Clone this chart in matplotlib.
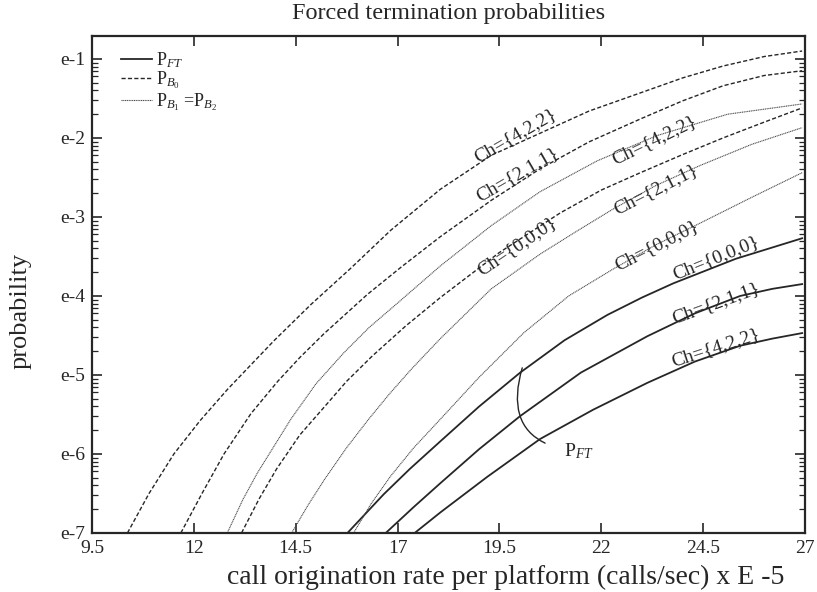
import matplotlib
matplotlib.use("Agg")
import matplotlib.pyplot as plt
import numpy as np
from matplotlib.ticker import LogLocator, NullFormatter

plt.rcParams['font.family'] = ['Liberation Serif', 'DejaVu Serif']
plt.rcParams['mathtext.fontset'] = 'custom'
plt.rcParams['mathtext.rm'] = 'Liberation Serif'
plt.rcParams['mathtext.it'] = 'Liberation Serif:italic'

# call origination rate (calls/sec x E-5) and log10(probability)
# P_B0 (new call blocking), dashed
x_b0_422 = [10.37, 10.90, 11.51, 12.15, 12.83, 13.96, 14.87, 15.85, 16.83, 18.05, 19.30, 20.50,
            21.70, 22.96, 24.00, 24.99, 26.00, 26.93]
e_b0_422 = [-7, -6.50, -6.00, -5.58, -5.18, -4.57, -4.11, -3.65, -3.17, -2.65, -2.22, -1.94,
            -1.66, -1.43, -1.24, -1.09, -0.97, -0.90]
x_b0_211 = [11.68, 12.20, 12.74, 13.40, 14.06, 14.60, 15.19, 16.26, 17.10, 18.05, 19.30, 20.50,
            21.70, 22.96, 24.00, 24.99, 26.00, 26.93]
e_b0_211 = [-7, -6.50, -6.00, -5.49, -5.08, -4.78, -4.48, -3.98, -3.63, -3.25, -2.79, -2.39,
            -2.05, -1.76, -1.53, -1.34, -1.21, -1.15]
x_b0_000 = [13.17, 13.60, 14.03, 14.60, 15.16, 15.75, 16.38, 17.20, 18.05, 19.50, 20.99, 22.00,
            22.96, 24.00, 24.99, 26.00, 26.93]
e_b0_000 = [-7, -6.57, -6.19, -5.76, -5.43, -5.08, -4.76, -4.38, -4.02, -3.45, -2.95, -2.66,
            -2.44, -2.21, -2.00, -1.80, -1.62]

# P_B1 = P_B2 (handoff blocking), dotted
x_b1_422 = [12.82, 13.20, 13.56, 14.38, 15.00, 15.68, 16.30, 17.00, 18.05, 19.30, 20.50, 21.90,
            23.37, 25.10, 26.93]
e_b1_422 = [-7, -6.58, -6.24, -5.56, -5.11, -4.72, -4.40, -4.09, -3.62, -3.11, -2.68, -2.29,
            -1.97, -1.70, -1.57]
x_b1_211 = [14.40, 14.80, 15.21, 15.75, 16.29, 16.80, 17.35, 18.05, 19.30, 20.50, 21.40, 22.29,
            23.35, 24.42, 25.70, 26.93]
e_b1_211 = [-7, -6.65, -6.32, -5.92, -5.56, -5.24, -4.92, -4.54, -3.91, -3.47, -3.18, -2.90,
            -2.60, -2.35, -2.08, -1.87]
x_b1_000 = [15.92, 16.35, 16.83, 17.40, 18.05, 19.00, 20.09, 21.20, 22.29, 23.35, 24.42, 25.70, 26.93]
e_b1_000 = [-7, -6.63, -6.28, -5.92, -5.56, -5.03, -4.47, -4.00, -3.66, -3.35, -3.08, -2.75, -2.44]

# P_FT (forced termination), solid
x_ft_000 = [15.77, 16.66, 17.30, 18.05, 19.00, 20.01, 21.10, 22.15, 23.00, 23.77, 25.30, 26.93]
e_ft_000 = [-7, -6.51, -6.19, -5.84, -5.40, -4.97, -4.56, -4.24, -4.02, -3.84, -3.53, -3.27]
x_ft_211 = [16.71, 17.40, 18.05, 19.00, 20.01, 21.50, 23.13, 24.30, 25.41, 26.20, 26.93]
e_ft_211 = [-7, -6.67, -6.37, -5.94, -5.52, -4.97, -4.51, -4.22, -4.00, -3.91, -3.85]
x_ft_422 = [17.42, 18.05, 19.20, 20.50, 21.80, 23.13, 24.30, 25.41, 26.20, 26.93]
e_ft_422 = [-7, -6.74, -6.29, -5.81, -5.44, -5.10, -4.83, -4.63, -4.54, -4.47]

xticks = [9.5, 12, 14.5, 17, 19.5, 22, 24.5, 27]
xtick_labels = ['9.5', '12', '14.5', '17', '19.5', '22', '24.5', '27']
yticks = [1e-7, 1e-6, 1e-5, 1e-4, 1e-3, 1e-2, 1e-1]
ytick_labels = ['e-7', 'e-6', 'e-5', 'e-4', 'e-3', 'e-2', 'e-1']

fig = plt.figure(figsize=(8.17, 5.92), dpi=100)
ax = fig.add_axes([0.1126, 0.0997, 0.8727, 0.8395])

ink = '#262626'
dash = dict(color=ink, lw=1.0, ls=(0, (3, 1.6)))
dots = dict(color='#4a4a4a', lw=0.8, ls=(0, (1, 0.6)))
solid = dict(color=ink, lw=1.3, ls='-')

def p(e):
    return np.power(10.0, e)

ax.plot(x_ft_000, p(e_ft_000), label=r'P$_{FT}$', **solid)
ax.plot(x_ft_211, p(e_ft_211), **solid)
ax.plot(x_ft_422, p(e_ft_422), **solid)
ax.plot(x_b0_422, p(e_b0_422), label=r'P$_{B_0}$', **dash)
ax.plot(x_b0_211, p(e_b0_211), **dash)
ax.plot(x_b0_000, p(e_b0_000), **dash)
ax.plot(x_b1_422, p(e_b1_422), label=r'P$_{B_1}$ =P$_{B_2}$', **dots)
ax.plot(x_b1_211, p(e_b1_211), **dots)
ax.plot(x_b1_000, p(e_b1_000), **dots)

ax.set_yscale('log')
ax.set_xlim(9.5, 27)
ax.set_ylim(1e-7, 0.195)
ax.set_xticks(xticks)
ax.set_xticklabels(xtick_labels)
ax.set_yticks(yticks)
ax.set_yticklabels(ytick_labels)
ax.yaxis.set_minor_locator(LogLocator(base=10, subs=range(2, 10), numticks=20))
ax.yaxis.set_minor_formatter(NullFormatter())
ax.tick_params(which='both', direction='in', top=True, right=True, labelsize=14, pad=5, colors=ink)
ax.tick_params(which='major', length=7, width=1.2)
ax.tick_params(which='minor', length=4, width=0.9)
for s in ax.spines.values():
    s.set_linewidth(1.6)
    s.set_color(ink)

ax.set_title('Forced termination probabilities', fontsize=17.5, pad=12, color=ink)
ax.set_xlabel('call origination rate per platform (calls/sec) x E -5', fontsize=20, color=ink, labelpad=3)
ax.xaxis.set_label_coords(0.58, -0.065)
ax.set_ylabel('probability', fontsize=19, color=ink)
ax.yaxis.set_label_coords(-0.085, 0.447)

leg = ax.legend(loc='upper left', frameon=False, fontsize=13, handlelength=1.75,
                handletextpad=0.2, labelspacing=0.0, borderpad=0, borderaxespad=0,
                bbox_to_anchor=(0.04, 0.972))
for t in leg.get_texts():
    t.set_color(ink)

# curve labels
lab = dict(fontsize=14, color=ink, ha='center', va='center', rotation_mode='anchor')
ax.text(19.89, 1.06e-2, 'Ch={4,2,2}', rotation=30, **lab)
ax.text(19.94, 3.4e-3, 'Ch={2,1,1}', rotation=30, **lab)
ax.text(19.94, 4.3e-4, 'Ch={0,0,0}', rotation=34, **lab)
ax.text(23.30, 9.3e-3, 'Ch={4,2,2}', rotation=26, **lab)
ax.text(23.35, 2.2e-3, 'Ch={2,1,1}', rotation=27, **lab)
ax.text(23.35, 4.3e-4, 'Ch={0,0,0}', rotation=27, **lab)
ax.text(24.82, 3.0e-4, 'Ch={0,0,0}', rotation=22, **lab)
ax.text(24.82, 8.1e-5, 'Ch={2,1,1}', rotation=20, **lab)
ax.text(24.82, 2.2e-5, 'Ch={4,2,2}', rotation=18, **lab)

ax.annotate(r'P$_{FT}$', xy=(20.06, 1.23e-5), xytext=(21.44, 1.07e-6),
            fontsize=14, color=ink, ha='center', va='center',
            arrowprops=dict(arrowstyle='-', color=ink, lw=1.0, shrinkA=12, shrinkB=0,
                            connectionstyle='arc3,rad=-0.6'))

fig.savefig('out.png', dpi=100)
